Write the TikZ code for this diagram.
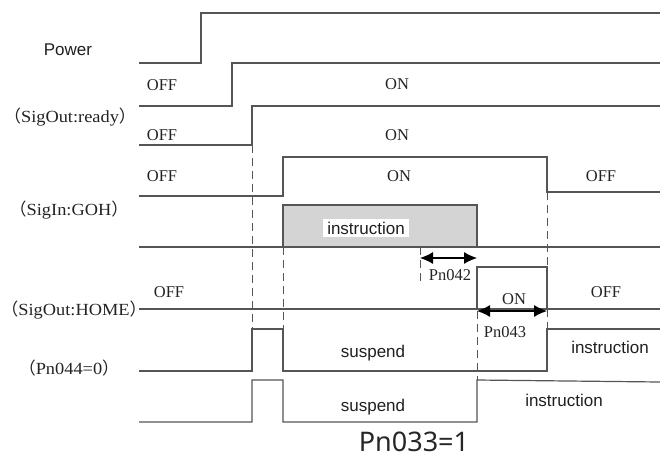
\documentclass[tikz,border=0pt]{standalone}
\usepackage{fontspec}
\setmainfont{Liberation Serif}
\newfontfamily\serwide[FakeStretch=1.08]{Liberation Serif}
\newfontfamily\sansfam{Liberation Sans}
\newfontfamily\cjk{Noto Sans CJK SC}
\newfontfamily\titlefam{Noto Sans}
\usetikzlibrary{arrows.meta}
\definecolor{lc}{RGB}{85,85,85}
\definecolor{tc}{RGB}{35,35,35}
\definecolor{shade}{RGB}{212,212,212}
\begin{document}
\begin{tikzpicture}[x=1pt,y=-1pt,
  sig/.style={line width=1.2pt, draw=lc},
  dsh/.style={line width=1pt, draw=lc, dash pattern=on 8pt off 5pt},
  ser/.style={font=\fontsize{16.5}{16.5}\selectfont, text=tc, inner sep=0pt},
  lab/.style={font=\serwide\fontsize{17}{17}\selectfont, text=tc, inner sep=0pt},
  sa/.style={font=\sansfam\fontsize{17}{17}\selectfont, text=black!88, inner sep=0pt},
  dim/.style={line width=1.2pt, draw=black, {Latex[length=13pt,width=12pt]}-{Latex[length=13pt,width=12pt]}}]
\useasboundingbox (0,0) rectangle (660,464);
% signals
\draw[sig] (139,63) -- (201,63) -- (201,13) -- (660,13);
\draw[sig] (139,106) -- (232,106) -- (232,63) -- (660,63);
\draw[sig] (139,145) -- (252,145) -- (252,106) -- (660,106);
\draw[sig] (139,196) -- (283,196) -- (283,157) -- (547,157) -- (547,192) -- (660,192);
\draw[sig, fill=shade] (283,205) rectangle (477,247);
\draw[sig] (139,247) -- (660,247);
\draw[sig] (139,309) -- (660,309);
\draw[sig] (477,309) -- (477,267) -- (547,267) -- (547,309);
\draw[sig] (139,371) -- (252,371) -- (252,329) -- (283,329) -- (283,371) -- (547,371) -- (547,329) -- (660,329);
\draw[sig] (139,422) -- (252,422) -- (252,380) -- (283,380) -- (283,422) -- (477,422) -- (477,380) -- (660,382);
% dashed guides
\draw[dsh] (252,145) -- (252,329);
\draw[dsh] (283,247) -- (283,329);
\draw[dsh] (420,247) -- (420,282);
\draw[dsh] (477,311) -- (477,380);
\draw[dsh] (547,192) -- (547,267);
\draw[dsh] (547,309) -- (547,329);
% dimension arrows
\coordinate (a1) at (420,258);
\coordinate (a2) at (477,258);
\coordinate (b1) at (477,311);
\coordinate (b2) at (547,311);
\draw[dim] (a1) -- (a2);
\draw[dim] (b1) -- (b2);
% left labels
\node[sa] (lpower) at (68,50) {Power};
\node[lab] (lready) at (70,117) {{\cjk（}SigOut:ready{\cjk）}};
\node[lab] (lgoh) at (69,210) {{\cjk（}SigIn:GOH{\cjk）}};
\node[lab] (lhome) at (74,310) {{\cjk（}SigOut:HOME{\cjk）}};
\node[lab] (lpn44) at (69,368) {{\cjk（}Pn044=0{\cjk）}};
% state labels
\node[ser] (off1) at (162,85) {OFF};
\node[ser] (on1) at (397,84) {ON};
\node[ser] (off2) at (162,135) {OFF};
\node[ser] (on2) at (397,135) {ON};
\node[ser] (off3) at (162,176) {OFF};
\node[ser] (on3) at (399,176) {ON};
\node[ser] (off4) at (601,176) {OFF};
\node[ser] (off5) at (169,292) {OFF};
\node[ser] (on5) at (514,299) {ON};
\node[ser] (off6) at (606,292) {OFF};
\node[ser] (p42) at (450,275) {Pn042};
\node[ser] (p43) at (505,332) {Pn043};
\node[sa, fill=white, inner xsep=4pt, inner ysep=3pt] (ins1) at (366,228) {instruction};
\node[sa] (sus1) at (373,353) {suspend};
\node[sa] (ins2) at (610,347) {instruction};
\node[sa] (sus2) at (373,407) {suspend};
\node[sa] (ins3) at (564,400) {instruction};
\node[font=\titlefam\fontsize{27}{27}\selectfont, text=black!85, inner sep=0pt] (title) at (414,442) {Pn033=1};
\end{tikzpicture}
\end{document}
